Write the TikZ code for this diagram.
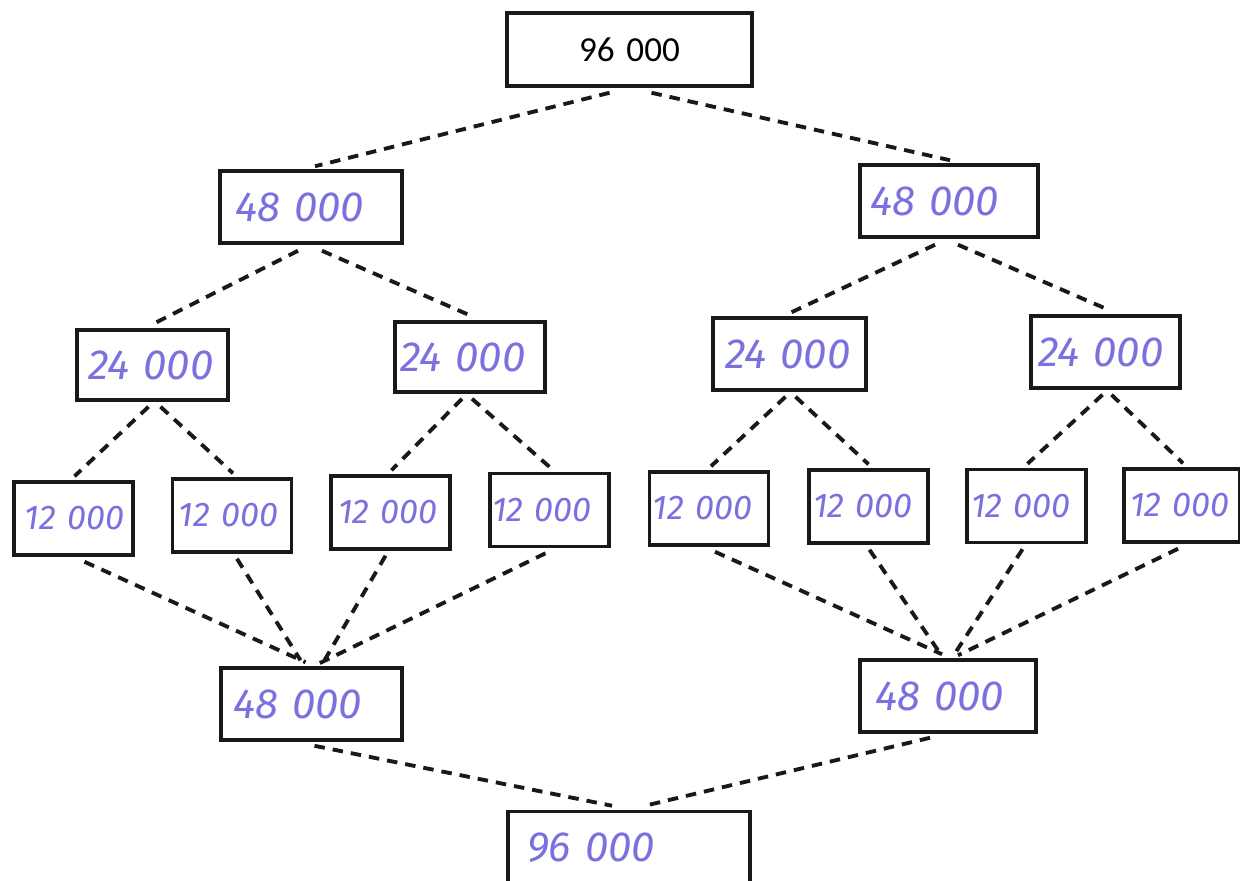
\documentclass[tikz,border=0pt]{standalone}
\usepackage{fontspec}
\setmainfont{Carlito}
\newfontfamily\hand{Fira Sans}
\usetikzlibrary{calc}
\definecolor{ink}{RGB}{122,112,222}
\begin{document}
\begin{tikzpicture}[x=0.02cm,y=-0.02cm,
  box/.style n args={3}{draw=black!90, line width=2pt, fill=white,
    minimum width=#1*0.02cm, minimum height=#2*0.02cm,
    inner xsep=#3*0.02cm, inner ysep=0pt,
    text width=(#1-2*#3)*0.02cm, align=left},
  big/.style={font=\hand\itshape\fontsize{24}{28}\selectfont, text=ink},
  small/.style={font=\hand\itshape\fontsize{19.5}{22}\selectfont, text=ink},
  conn/.style={draw=black!90, line width=2.2pt, dash pattern=on 0.21cm off 0.16cm}]
\fill[white] (0,0) rectangle (1240,880);
\useasboundingbox (0,0) rectangle (1240,880);

% level 0
\node[box={245}{73}{0}, align=center, font=\fontsize{20}{24}\selectfont] (top) at (629.5,49.5) {96 000};
% level 1
\node[box={182}{72}{15}, big] (L) at (311,207) {48~000};
\node[box={178}{72}{10}, big] (R) at (949,201) {48~000};
% level 2
\node[box={151}{70}{11}, big] (A) at (152.5,365) {24~000};
\node[box={150}{70}{5},  big] (B) at (470,357) {24~000};
\node[box={153}{72}{12}, big] (C) at (789.5,354) {24~000};
\node[box={149}{72}{7},  big] (D) at (1105.5,352) {24~000};
% level 3
\node[box={119}{73}{11}, small] (a1) at (73.5,518.5) {12~000};
\node[box={119}{73}{6},  small] (a2) at (232,515.5) {12~000};
\node[box={119}{73}{7},  small] (b1) at (390.5,512.5) {12~000};
\node[box={119}{73}{2},  small] (b2) at (549.5,510) {12~000};
\node[box={119}{73}{3},  small] (c1) at (709,508.5) {12~000};
\node[box={119}{73}{4},  small] (c2) at (868.5,506.5) {12~000};
\node[box={119}{73}{4},  small] (d1) at (1026.5,506) {12~000};
\node[box={116}{73}{6},  small] (d2) at (1182,505.5) {12~000};
% merged sums
\node[box={181}{72}{12}, big] (BL) at (311.5,704) {48~000};
\node[box={176}{72}{15}, big] (BR) at (948,696) {48~000};
\node[box={242}{73}{19}, big] (bot) at (629,848) {96~000};

% splitting
\draw[conn] ($(top.south)+(-20,5)$) -- ($(L.north)+(4,-3)$);
\draw[conn] ($(top.south)+(22,5)$) -- ($(R.north)+(1,-3)$);
\draw[conn] ($(L.south)+(-13,6)$) -- ($(A.north)+(0,-4)$);
\draw[conn] ($(L.south)+(11,6)$) -- ($(B.north)+(2,-4)$);
\draw[conn] ($(R.south)+(-14,6)$) -- ($(C.north)+(2,-4)$);
\draw[conn] ($(R.south)+(9,6)$) -- ($(D.north)+(4,-4)$);
\draw[conn] ($(A.south)+(-4,5)$) -- ($(a1.north)+(1,-4)$);
\draw[conn] ($(A.south)+(8,5)$) -- ($(a2.north)+(1,-4)$);
\draw[conn] ($(B.south)+(-8,5)$) -- ($(b1.north)+(1,-4)$);
\draw[conn] ($(B.south)+(2,5)$) -- ($(b2.north)+(1,-4)$);
\draw[conn] ($(C.south)+(-4,5)$) -- ($(c1.north)+(2,-4)$);
\draw[conn] ($(C.south)+(6,5)$) -- ($(c2.north)+(0,-4)$);
\draw[conn] ($(D.south)+(-3,5)$) -- ($(d1.north)+(1,-4)$);
\draw[conn] ($(D.south)+(6,5)$) -- ($(d2.north)+(1,-4)$);
% merging
\draw[conn] ($(a1.south)+(11,5)$) -- ($(BL.north)+(-6,-4)$);
\draw[conn] ($(a2.south)+(5,5)$) -- ($(BL.north)+(-11,-6)$);
\draw[conn] ($(b1.south)+(-5,5)$) -- ($(BL.north)+(13,-6)$);
\draw[conn] ($(b2.south)+(-4,5)$) -- ($(BL.north)+(8,-3)$);
\draw[conn] ($(c1.south)+(6,5)$) -- ($(BR.north)+(-6,-4)$);
\draw[conn] ($(c2.south)+(1,5)$) -- ($(BR.north)+(-8,-5)$);
\draw[conn] ($(d1.south)+(-4,5)$) -- ($(BR.north)+(7,-5)$);
\draw[conn] ($(d2.south)+(-4,5)$) -- ($(BR.north)+(10,-3)$);
\draw[conn] ($(BL.south)+(3,4)$) -- ($(bot.north)+(-17,-4)$);
\draw[conn] ($(BR.south)+(-18,4)$) -- ($(bot.north)+(16,-4)$);
\end{tikzpicture}
\end{document}
